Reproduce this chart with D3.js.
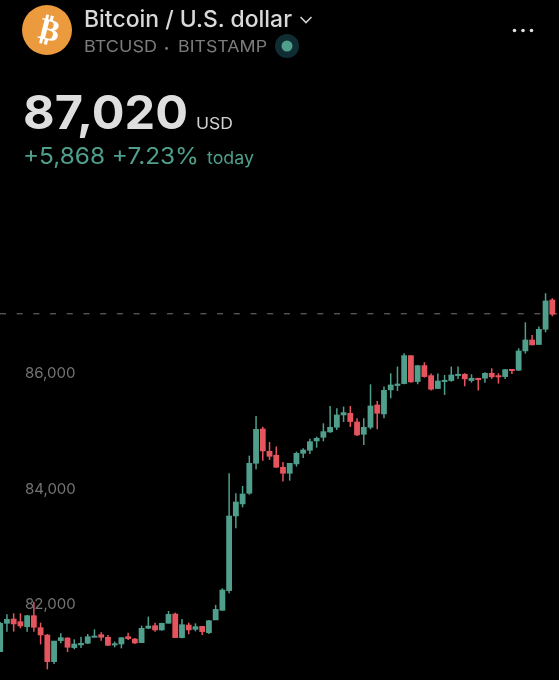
<!DOCTYPE html>
<html><head><meta charset="utf-8">
<script src="https://cdn.jsdelivr.net/npm/d3@7"></script>
<style>html,body{margin:0;padding:0;background:#000;overflow:hidden}svg{display:block;filter:blur(0.35px)}text{font-family:Inter,"Noto Sans",sans-serif}</style>
</head><body><svg id="c" width="559" height="680"></svg>
<script>
const opens=[81157,81648,81723,81677,81590,81781,81573,81446,80984,81348,81394,81227,81273,81302,81406,81452,81406,81273,81290,81417,81377,81313,81562,81608,81533,81648,81810,81400,81619,81544,81596,81486,81706,81873,82214,83507,83715,83900,84419,85014,84627,84558,84350,84246,84408,84592,84644,84806,84869,84962,85043,85256,85285,85135,84921,85042,85429,85273,85690,85765,85799,86284,85834,86111,85938,85713,85840,85851,85938,85961,85851,85892,85892,85978,85938,85920,86047,86030,86365,86555,86475,86740,87248];
const closes=[81648,81717,81637,81602,81781,81579,81446,80984,81342,81400,81233,81290,81302,81417,81429,81406,81267,81296,81400,81383,81307,81562,81602,81533,81648,81804,81400,81625,81533,81590,81504,81694,81890,82225,83507,83749,83888,84419,85008,84633,84540,84350,84246,84419,84592,84650,84794,84852,84968,85043,85256,85297,85141,84910,85043,85412,85285,85683,85776,85793,86284,85828,86111,85920,85701,85845,85857,85949,85961,85880,85892,85874,85978,85915,85915,86042,86024,86365,86555,86469,86740,87231,87000];
const highs=[81671,81804,81821,81821,81792,82023,81660,81463,81342,81475,81406,81371,81417,81463,81544,81492,81446,81331,81406,81486,81394,81608,81764,81660,81660,81862,81833,81723,81660,81648,81602,81706,81966,82254,84246,83900,84027,84552,85239,85054,84789,84708,84442,84419,84621,84679,84846,84881,85112,85412,85372,85401,85412,85198,85198,85787,85499,85747,85978,86094,86325,86284,86122,86169,85972,85972,85949,86094,86094,85978,85961,85892,85995,86065,85978,86053,86053,86411,86861,86642,86786,87364,87277];
const lows=[81151,81504,81504,81562,81504,81504,81284,80851,80944,81302,81152,81198,81221,81290,81406,81348,81256,81232,81215,81359,81290,81313,81550,81504,81521,81648,81400,81388,81458,81509,81446,81463,81706,81867,82168,83293,83657,83876,84315,84465,84477,84344,84102,84119,84361,84511,84581,84690,84800,84950,84996,85135,85048,84892,84737,85008,85008,85198,85545,85672,85788,85816,85788,85903,85678,85707,85603,85834,85880,85753,85816,85678,85816,85880,85799,85880,85967,86019,86319,86463,86475,86688,86965];
const priceTicks=[82000,84000,86000];
const lastPrice=87020;
const titleText="Bitcoin / U.S. dollar", symbolText="BTCUSD", exchangeText="BITSTAMP";
const priceText="87,020", currencyText="USD", changeText="+5,868 +7.23%", todayText="today";

const GREEN="#4f9f8c",RED="#e6545e";
const svg=d3.select("#c");
svg.append("rect").attr("width",559).attr("height",680).attr("fill","#000");

const x=d3.scaleLinear().domain([0,opens.length-1]).range([0.2,552.3]);
const y=d3.scaleLinear().domain([82000,86000]).range([603,372]);

svg.append("line").attr("x1",0).attr("x2",559).attr("y1",y(lastPrice)+0.7).attr("y2",y(lastPrice)+0.7)
 .attr("stroke","#777").attr("stroke-width",1).attr("stroke-dasharray","6 10.7");

const idx=d3.range(opens.length);
const g=svg.append("g");
const col=i=>closes[i]>=opens[i]?GREEN:RED;
g.selectAll("line.w").data(idx).join("line").attr("class","w")
 .attr("x1",x).attr("x2",x).attr("y1",i=>y(highs[i])).attr("y2",i=>y(lows[i]))
 .attr("stroke",col).attr("stroke-width",1.5);
g.selectAll("rect.b").data(idx).join("rect").attr("class","b")
 .attr("x",i=>x(i)-2.9).attr("width",5.8)
 .attr("y",i=>Math.min(y(opens[i]),y(closes[i]))-0.3)
 .attr("height",i=>Math.max(2,Math.abs(y(opens[i])-y(closes[i]))+0.6))
 .attr("fill",col);

const ax=svg.append("g").attr("transform","translate(25,0.8)")
 .call(d3.axisRight(y).tickValues(priceTicks).tickFormat(d3.format(",")).tickSize(0).tickPadding(0));
ax.select(".domain").remove();
ax.selectAll("text").attr("fill","#747474").style("font-size","15px").style("font-family",'Inter,sans-serif');

const T=(s,px,py,size,fill,weight,len)=>{const t=svg.append("text").attr("x",px).attr("y",py).attr("fill",fill)
 .attr("font-size",size).attr("font-weight",weight||400).text(s);
 if(len)t.attr("textLength",len).attr("lengthAdjust","spacingAndGlyphs");return t;};
svg.append("circle").attr("cx",47).attr("cy",30).attr("r",25).attr("fill","#ec9a3e");
svg.append("text").attr("transform","translate(47,40) rotate(14)").attr("text-anchor","middle")
 .attr("fill","#fff").attr("font-size",31).attr("font-weight",700).style("font-family","'DejaVu Sans'").text("₿");
T(titleText,84,27,22.5,"#d9d9d9",500,208);
svg.append("path").attr("d","M300.5 17 L306 22.5 L311.5 17").attr("fill","none").attr("stroke","#d0d0d0").attr("stroke-width",1.6);
T(symbolText,84,52,16.5,"#7c7c7c",400,73);
T("•",164,51,9,"#7c7c7c");
T(exchangeText,178,52,16.5,"#7c7c7c",400,89);
svg.append("circle").attr("cx",287).attr("cy",46).attr("r",12).attr("fill","#0f2d33");
svg.append("circle").attr("cx",287).attr("cy",46).attr("r",5.5).attr("fill",GREEN);
svg.selectAll("circle.d").data([514.5,523,531.5]).join("circle").attr("class","d").attr("cx",d=>d).attr("cy",30.5).attr("r",1.8).attr("fill","#e0e0e0");
T(priceText,23,129,46,"#dedede",700,165);
T(currencyText,196,129,16.5,"#d0d0d0",400,37);
T(changeText,23,164,23,GREEN,400,176);
T(todayText,207,164,17.5,GREEN,400,47);
</script></body></html>
